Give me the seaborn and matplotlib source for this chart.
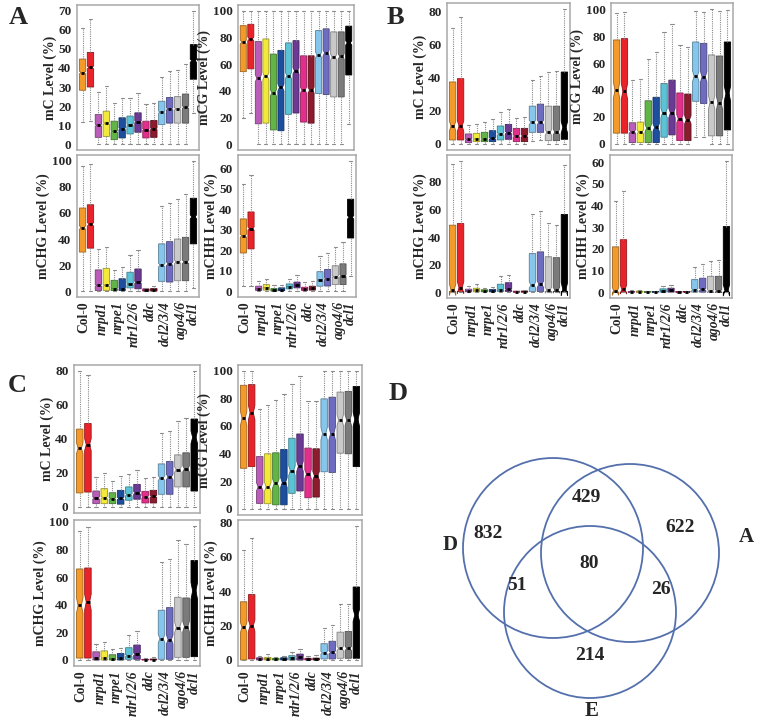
import numpy as np
import pandas as pd
import matplotlib
matplotlib.use("Agg")
import matplotlib.pyplot as plt
import matplotlib.colors as mcolors
from matplotlib.patches import Circle
import seaborn as sns

# ---------------- data ----------------
genotypes = ["Col-0", "nrpd1", "nrpe1", "rdr1/2/6", "ddc", "dcl2/3/4", "ago4/6", "dcl1"]
label_pos = [0.2, 2.5, 4.5, 6.5, 8.5, 10.5, 12.5, 14.0]
box_colors = ["#F39A2B", "#E8232A", "#B95DB9", "#F2E93A", "#62B446", "#1E4F9E",
              "#5CC3D6", "#6A3A95", "#E32F8C", "#8C1B2E", "#86C6EC", "#6E6CC0",
              "#C9C9C9", "#7B7B7B", "#000000"]

# each tuple: (lower whisker, Q1, median, Q3, upper whisker), one per box
A_mC = [(11.7, 28.3, 37.6, 44.7, 61), (12, 30, 40.3, 48.2, 66), (0, 3.5, 9.9, 15.5, 27.6),
        (0, 4, 11, 17.3, 30.6), (0, 2.3, 6.7, 12, 21.7), (0, 3.2, 8, 13.8, 24.4),
        (0, 5.3, 10.2, 14.7, 24), (0, 6.2, 11.7, 16.4, 27), (0, 3.2, 7.6, 12, 20.8),
        (0, 3.5, 8, 12.4, 21.7), (0, 10.2, 16.8, 22.5, 35.3), (0, 11, 18.5, 24.5, 38.5),
        (0, 11, 18.5, 25, 38.9), (0, 11, 19.4, 26.3, 42), (16.4, 34.1, 43.8, 52.3, 70)]
A_mCG = [(19.7, 54.4, 76.7, 89, 100), (23.3, 56.5, 79, 90, 100), (0, 15.2, 49.4, 77, 100),
         (0, 15.7, 51, 79, 100), (0, 10.6, 38.5, 67.6, 100), (0, 10, 42.5, 70.4, 100),
         (0, 22.3, 51.4, 76, 100), (0, 23.3, 55, 77.7, 100), (0, 16.5, 40.5, 66.3, 100),
         (0, 15.7, 40.5, 66.3, 100), (0, 38, 67, 85.3, 100), (0, 37.2, 68.4, 86.6, 100),
         (0, 35.4, 65.3, 84.3, 100), (0, 35.4, 65.8, 84.3, 100), (15.2, 51.9, 76, 88.6, 100)]
A_mCHG = [(0, 30, 48.8, 63.8, 96), (0, 33, 51.3, 66.3, 97.5), (0, 0.5, 4.5, 16.3, 32),
          (0, 0.5, 4.5, 17.5, 33.8), (0, 0.5, 2, 8.3, 16.3), (0, 0.5, 2, 9.5, 18.8),
          (0, 2.5, 5.5, 14.5, 27.5), (0, 1.8, 6.8, 17, 31.3), (0, 0, 0.8, 1.8, 2.5),
          (0, 0, 1, 2, 3.8), (0, 7.5, 20, 36.3, 65), (0, 7, 21, 38, 68),
          (0, 8, 22.5, 40, 70.5), (0, 8, 22.5, 41.3, 74.3), (2.5, 36.3, 57, 71.3, 100)]
A_mCHH = [(2.4, 18.6, 27, 35.2, 52), (2.4, 20.6, 30.5, 38.6, 56.8), (0, 0.3, 1.1, 2.4, 4.8),
          (0, 0.5, 1.6, 3.2, 5.9), (0, 0, 0.5, 1.3, 2.9), (0, 0.2, 0.6, 1.6, 3.2),
          (0, 1.1, 2.1, 3.5, 5.9), (0, 1.6, 2.9, 4.4, 7.9), (0, 0.3, 1.1, 1.9, 4.3),
          (0, 0.5, 1.3, 2.4, 4.8), (0, 2.4, 5.4, 9.5, 17), (0, 2.5, 6, 10.6, 18.7),
          (0, 3.2, 7.1, 12.4, 21.4), (0, 3.2, 7.5, 13.3, 24.1), (7.6, 25.9, 36, 44.8, 63.5)]

B_mC = [(0, 2.4, 10.8, 37.4, 70), (0, 2.4, 10.8, 39.4, 76.8), (0, 0.8, 2.8, 6, 11.4),
        (0, 1.4, 3, 6.4, 12), (0, 1.4, 3, 7, 13), (0, 1.4, 3.4, 8, 15),
        (0, 2.4, 6, 10.8, 19), (0, 2.8, 6.8, 11.8, 21.2), (0, 1.4, 4.8, 9.4, 15.4),
        (0, 1.4, 4.8, 9.4, 16), (2, 7, 13, 22.8, 38.4), (2.4, 7, 13, 24, 40.8),
        (0, 2, 7, 22.8, 43.4), (0, 2, 7.2, 22.8, 44), (0, 2.8, 10, 43.4, 81.4)]
B_mCG = [(0, 8, 39.8, 77.1, 97), (0, 8, 39, 78.1, 98), (0, 1, 9.2, 15.7, 47.3),
         (0, 1, 9, 16.2, 47.8), (0, 1, 11.7, 32, 62.7), (0, 1, 12.2, 34.6, 68.4),
         (0, 5, 22.9, 44.8, 83), (0, 6.7, 22.9, 47.3, 88.8), (0, 2.5, 18.7, 37.8, 73),
         (0, 2.5, 17.9, 37, 72), (5.5, 31.6, 50.2, 75.6, 98.8), (5, 30, 49.8, 74.6, 97.5),
         (0, 6, 30.8, 66, 100), (0, 6, 30.3, 65.2, 98.8), (0, 10.4, 37.3, 75.6, 99.5)]
B_mCHG = [(0, 0.5, 1.7, 48.6, 93.4), (0, 0.5, 3.3, 49.8, 95.3), (0, 0.2, 0.9, 2.1, 4.5),
          (0, 0.2, 1.4, 2.8, 6.1), (0, 0.2, 0.7, 1.7, 3.3), (0, 0.2, 0.7, 1.9, 3.8),
          (0, 0.5, 1.7, 5.7, 11.6), (0, 0.5, 1.9, 6.8, 12.7), (0, 0, 0.2, 0.7, 0.9),
          (0, 0, 0.3, 0.8, 1.2), (0, 0.5, 5.2, 28, 56.4), (0, 0.5, 5.7, 29.2, 58.7),
          (0, 0.5, 1.4, 25.7, 50), (0, 0.5, 1.4, 25, 48.6), (0, 0.5, 2.1, 56.4, 92.5)]
B_mCHH = [(0, 0, 0.3, 20.9, 42), (0, 0, 1.2, 24.2, 46.7), (0, 0, 0.1, 0.3, 0.8),
          (0, 0, 0.1, 0.5, 1.1), (0, 0, 0.05, 0.2, 0.5), (0, 0, 0.1, 0.3, 0.6),
          (0, 0, 0.6, 1.5, 2.7), (0, 0, 0.8, 1.8, 3.3), (0, 0, 0.05, 0.2, 0.5),
          (0, 0, 0.1, 0.3, 0.6), (0, 0, 1.1, 5.8, 11.4), (0, 0, 1.2, 6.4, 12.9),
          (0, 0, 0.5, 7.3, 14.4), (0, 0, 0.5, 7.3, 14.8), (0, 0, 0.8, 30.3, 60.6)]

C_mC = [(0, 8.2, 34.4, 45.6, 79.6), (0, 8.7, 36.5, 48.9, 77.3), (0, 1.9, 5.2, 9.3, 17.5),
        (0, 1.9, 5.4, 10.7, 19.8), (0, 1.9, 4.9, 8.3, 15.1), (0, 1.6, 5, 9.7, 18),
        (0, 3.9, 7.2, 11.7, 19.4), (0, 4.5, 8.2, 13.2, 21.9), (0, 2.3, 5.8, 9.1, 16.9),
        (0, 2.3, 6.2, 9.7, 17.5), (0, 7.4, 16.9, 25.2, 43.1), (0, 7.4, 17.5, 26.6, 44.3),
        (0, 11.7, 21.9, 30.5, 50.1), (0, 11.7, 22.3, 31.7, 52), (0, 9.3, 40.8, 51.5, 79.6)]
C_mCG = [(0, 29.3, 65.4, 89.3, 99.5), (0, 30.5, 69.5, 89.8, 99.5), (0, 3.9, 15.9, 37.8, 72.2),
         (0, 3.7, 15.9, 39.8, 75.1), (0, 2.9, 18.3, 40.5, 78.8), (0, 2.9, 19, 42.9, 83.2),
         (0, 11.2, 27.6, 51, 90.5), (0, 12.9, 30.7, 54.1, 95.9), (0, 8, 25.1, 43.9, 78),
         (0, 8.5, 23.9, 43.4, 78), (0, 26.8, 54.4, 79.5, 99.5), (0, 26.3, 54.4, 80.7, 99.5),
         (0, 40.2, 64.1, 84.4, 99.5), (0, 39.8, 64.1, 84.9, 99.5), (0, 30.5, 64.6, 88.5, 99.5)]
C_mCHG = [(0, 1.4, 39.5, 65.9, 93.6), (0, 1.4, 41.9, 66.6, 96), (0, 0, 1.4, 5.9, 11.3),
          (0, 0, 1.4, 6.6, 13.2), (0, 0, 0.9, 3.8, 7.8), (0, 0, 1.2, 4.7, 8.9),
          (0, 0.5, 3.1, 8.9, 17.9), (0, 0.5, 4.2, 10.8, 20.7), (0, 0, 0.2, 0.5, 1.2),
          (0, 0, 0.3, 0.7, 1.9), (0, 0.5, 15.5, 36, 71.3), (0, 0.5, 14.8, 37.9, 72.9),
          (0, 1.9, 23.5, 45.4, 86.6), (0, 1.9, 24.2, 44.9, 84), (0, 2.4, 50, 72, 97)]
C_mCHH = [(0, 0, 19, 33.9, 64.2), (0, 0.6, 20, 38.1, 71), (0, 0, 0.6, 1.3, 2.5),
          (0, 0, 0.6, 1.5, 3.2), (0, 0, 0.4, 1, 1.9), (0, 0, 0.5, 1.3, 2.5),
          (0, 0, 1.3, 2.5, 4.8), (0, 0, 1.7, 3.4, 6.3), (0, 0, 0.4, 1, 2.3),
          (0, 0, 0.5, 1.1, 2.9), (0, 0.6, 4.2, 9.5, 18.5), (0, 0.6, 4.4, 10.9, 20.4),
          (0, 1, 6.7, 16.2, 32.8), (0, 1, 6.7, 16.6, 32.8), (0, 1, 26.1, 42.5, 78)]

venn_sets = ["D", "A", "E"]
venn_counts = {"D": 832, "DA": 429, "A": 622, "DAE": 80, "DE": 51, "AE": 26, "E": 214}

# ---------------- figure ----------------
sns.set_theme(style="white")
plt.rcParams["font.family"] = ["Liberation Serif", "DejaVu Serif"]
plt.rcParams["font.weight"] = "bold"

W, H = 784, 721
fig = plt.figure(figsize=(W / 100, H / 100), dpi=100)
fig.patch.set_facecolor("white")


def px_axes(x0, y0, x1, y1):
    return fig.add_axes([x0 / W, 1 - y1 / H, (x1 - x0) / W, (y1 - y0) / H])


def darker(c, f=0.65):
    r, g, b = mcolors.to_rgb(c)
    return (r * f, g * f, b * f)


def draw_panel(rect, stats, ylabel, yticks, reps, xlabels):
    ax = px_axes(*rect)
    rows = []
    for i, s in enumerate(stats):
        for v in s:
            rows.extend([(i, v)] * reps)
    df = pd.DataFrame(rows, columns=["box", "val"])
    sns.boxplot(data=df, x="box", y="val", hue="box", palette=box_colors,
                order=list(range(15)), hue_order=list(range(15)), legend=False,
                whis=(0, 100), width=0.8, saturation=1, notch=True, ax=ax,
                linewidth=0.6,
                medianprops=dict(color="black", linewidth=2.0),
                whiskerprops=dict(color="#8a8a8a", linestyle=(0, (1, 1)), linewidth=0.8),
                capprops=dict(color="#8a8a8a", linewidth=0.8),
                showfliers=False)
    for p, c in zip(ax.patches, box_colors):
        p.set_edgecolor(darker(c))
        p.set_linewidth(0.6)
    lo = min(s[0] for s in stats)
    hi = max(s[4] for s in stats)
    rng = hi - lo
    ax.set_ylim(lo - 0.045 * rng, hi + 0.045 * rng)
    ax.set_xlim(-0.7, 14.7)
    ax.set_yticks(yticks)
    ax.set_yticklabels([str(t) for t in yticks], fontsize=9.5, fontweight="bold")
    ax.set_ylabel(ylabel, fontsize=10, fontweight="bold", labelpad=1)
    ax.set_xlabel("")
    ax.set_xticks(list(range(15)), minor=True)
    ax.set_xticks(label_pos)
    if xlabels:
        ax.set_xticklabels(genotypes, rotation=90, fontsize=9.8, fontweight="bold")
        for t in ax.get_xticklabels():
            if t.get_text() != "Col-0":
                t.set_fontstyle("italic")
    else:
        ax.set_xticklabels([])
    ax.tick_params(axis="x", which="major", length=0, pad=3)
    ax.tick_params(axis="x", which="minor", length=2.5, width=0.6, color="#888888", direction="out")
    ax.tick_params(axis="y", length=2.5, width=0.6, color="#888888", direction="out", pad=1.5)
    for sp in ax.spines.values():
        sp.set_color("#a8a8a8")
        sp.set_linewidth(1.1)
    return ax


yt100 = [0, 20, 40, 60, 80, 100]
draw_panel((77, 5, 199, 150), A_mC, "mC Level (%)", list(range(0, 71, 10)), 250, False)
draw_panel((238, 5, 354, 150), A_mCG, "mCG Level (%)", yt100, 250, False)
draw_panel((77, 155, 199, 297), A_mCHG, "mCHG Level (%)", yt100, 250, True)
draw_panel((238, 155, 356, 297), A_mCHH, "mCHH Level (%)", list(range(0, 61, 10)), 250, True)

draw_panel((447, 3, 570, 150), B_mC, "mC Level (%)", [0, 20, 40, 60, 80], 64, False)
draw_panel((611, 3, 733, 150), B_mCG, "mCG Level (%)", yt100, 64, False)
draw_panel((447, 155, 570, 298), B_mCHG, "mCHG Level (%)", [0, 20, 40, 60, 80], 64, True)
draw_panel((610, 155, 732, 298), B_mCHH, "mCHH Level (%)", list(range(0, 61, 10)), 64, True)

draw_panel((74, 365, 200, 513), C_mC, "mC Level (%)", [0, 20, 40, 60, 80], 64, False)
draw_panel((238, 365, 362, 515), C_mCG, "mCG Level (%)", yt100, 64, False)
draw_panel((74, 520, 200, 666), C_mCHG, "mCHG Level (%)", yt100, 64, True)
draw_panel((238, 520, 362, 666), C_mCHH, "mCHH Level (%)", [0, 20, 40, 60, 80], 64, True)

# panel letters
for letter, (x, y) in {"A": (18, 18), "B": (395, 18), "C": (17, 386), "D": (398, 394)}.items():
    fig.text(x / W, 1 - y / H, letter, fontsize=19, fontweight="bold", ha="center", va="center")

# ---------------- Venn ----------------
vax = px_axes(400, 380, 784, 721)
vax.set_xlim(400, 784)
vax.set_ylim(721, 380)
vax.axis("off")
circ_style = dict(fill=False, edgecolor="#5470AC", linewidth=1.3)
for (cx, cy, r) in [(553, 548, 90), (630, 553, 89), (590, 612, 86)]:
    vax.add_patch(Circle((cx, cy), r, **circ_style))
num_pos = {"D": (488, 533), "DA": (586, 497), "A": (680, 527), "DAE": (589, 563),
           "DE": (517, 585), "AE": (661, 590), "E": (590, 655)}
for k, (x, y) in num_pos.items():
    vax.text(x, y, str(venn_counts[k]), fontsize=14, fontweight="bold", ha="center", va="center")
for name, (x, y) in zip(venn_sets, [(450, 545), (746, 537), (592, 711)]):
    vax.text(x, y, name, fontsize=15, fontweight="bold", ha="center", va="center")

fig.savefig("out.png", dpi=100, facecolor="white")
